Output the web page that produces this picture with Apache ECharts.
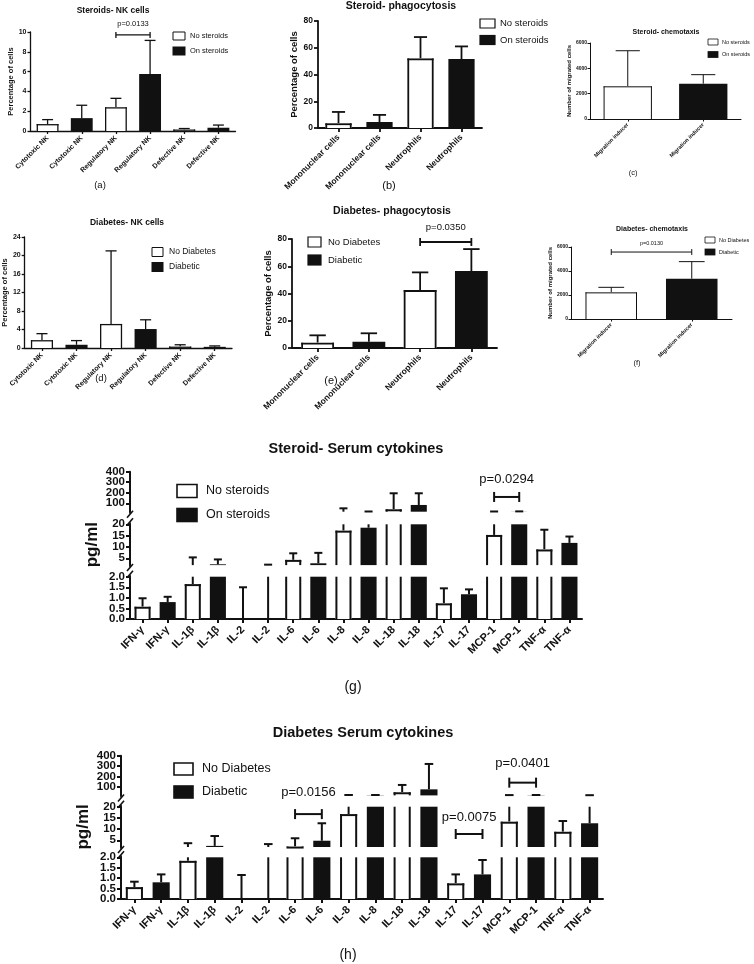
<!DOCTYPE html>
<html><head><meta charset="utf-8">
<script src="https://cdn.jsdelivr.net/npm/echarts@6/dist/echarts.min.js"></script>
<style>html,body{margin:0;padding:0;background:#fff}#chart{width:754px;height:964px}</style>
</head><body><div id="chart"></div>
<script>
const FONT = '"Liberation Sans", Arial, Helvetica, sans-serif';
const INK = '#111';

// ---------- data ----------
const steroidGroups = ['No steroids', 'On steroids'];
const diabetesGroups = ['No Diabetes', 'Diabetic'];

// (a) Steroids- NK cells
const aCategories = ['Cytotoxic NK','Cytotoxic NK','Regulatory NK','Regulatory NK','Defective NK','Defective NK'];
const aMeans = [0.7, 1.3, 2.4, 5.75, 0.15, 0.33];
const aSDs   = [0.45, 1.3, 0.9, 3.4, 0.1, 0.27];
const aTicks = [0, 2, 4, 6, 8, 10];
const aBracket = {from: 2, to: 3, y: 9.7, label: 'p=0.0133'};

// (b) Steroid- phagocytosis
const bCategories = ['Mononuclear cells','Mononuclear cells','Neutrophils','Neutrophils'];
const bMeans = [3.5, 4.5, 52, 51.5];
const bSDs   = [8.5, 5.3, 16, 9.5];
const bTicks = [0, 20, 40, 60, 80];

// (c) Steroid- chemotaxis
const cCategories = ['Migration inducer','Migration inducer'];
const cMeans = [2580, 2790];
const cSDs   = [2810, 710];
const cTicks = [0, 2000, 4000, 6000];

// (d) Diabetes- NK cells
const dCategories = ['Cytotoxic NK','Cytotoxic NK','Regulatory NK','Regulatory NK','Defective NK','Defective NK'];
const dMeans = [1.7, 0.7, 5.2, 4.1, 0.3, 0.25];
const dSDs   = [1.4, 0.9, 15.8, 2.0, 0.4, 0.2];
const dTicks = [0, 4, 8, 12, 16, 20, 24];

// (e) Diabetes- phagocytosis
const eCategories = ['Mononuclear cells','Mononuclear cells','Neutrophils','Neutrophils'];
const eMeans = [3.9, 4.6, 42.5, 56.5];
const eSDs   = [5.4, 6.2, 13, 16.1];
const eTicks = [0, 20, 40, 60, 80];
const eBracket = {from: 2, to: 3, y: 77.8, label: 'p=0.0350'};

// (f) Diabetes- chemotaxis
const fCategories = ['Migration inducer','Migration inducer'];
const fMeans = [2220, 3360];
const fSDs   = [420, 1420];
const fTicks = [0, 2000, 4000, 6000];
const fBracket = {from: 0, to: 1, y: 5580, label: 'p=0.0130'};

// (g) Steroid- Serum cytokines
const cytoCategories = ['IFN-γ','IFN-γ','IL-1β','IL-1β','IL-2','IL-2','IL-6','IL-6','IL-8','IL-8','IL-18','IL-18','IL-17','IL-17','MCP-1','MCP-1','TNF-α','TNF-α'];
const gMeans = [0.58, 0.8, 1.65, 2.35, 0, 0, 4.3, 2.8, 17.2, 18.5, 43, 84, 0.74, 1.17, 15.3, 21, 8.9, 11.8];
const gSDs   = [0.4, 0.25, 3.75, 2.15, 1.5, 2.2, 2.9, 4.6, 34.8, 3.5, 152, 111, 0.71, 0.23, 6.7, 2, 8.7, 2.8];
const gBracket = {from: 14, to: 15, y: 160, label: 'p=0.0294'};

// (h) Diabetes Serum cytokines
const hMeans = [0.57, 0.8, 1.83, 2.5, 0, 0, 2.2, 4.8, 16.7, 22, 50, 78, 0.75, 1.18, 13.3, 22, 8.8, 12.6];
const hSDs   = [0.26, 0.38, 1.87, 4.4, 1.15, 3.3, 3.7, 7.8, 7.3, 2, 70, 243, 0.43, 0.69, 9.7, 2, 4.8, 9.4];
const hBrackets = [
  {from: 6, to: 7, y: 16.7, label: 'p=0.0156', seg: 1, gap: 22},
  {from: 12, to: 13, y: 7.8, label: 'p=0.0075', seg: 1, gap: 17},
  {from: 14, to: 15, y: 142, label: 'p=0.0401', seg: 2, gap: 19}
];

// broken-axis segments (bottom, middle, top) and their tick labels
const cytoSegments = [[0, 2], [2, 20], [20, 400]];
const cytoTicks = [[0, 0.5, 1, 1.5, 2], [5, 10, 15, 20], [100, 200, 300, 400]];

// ---------- builders ----------
const grids = [], xAxes = [], yAxes = [], series = [], graphics = [];

function barRenderer(segMin, segMax, ratio, lw) {
  return function (params, api) {
    const i = api.value(0), m = api.value(1), sd = api.value(2);
    const up = m + sd;
    const filled = (i % 2) === 1;
    const cw = api.size([1, 0])[0];
    const bw = cw * ratio;
    const base = api.coord([i, segMin]);
    const x = base[0], y0 = base[1];
    const xl = x - bw / 2, xr = x + bw / 2;
    const ls = {stroke: INK, lineWidth: lw};
    const ch = [];
    if (sd > 0 && up > segMin && m < segMax) {
      const yS = api.coord([i, Math.max(m, segMin)])[1];
      const yE = api.coord([i, Math.min(up, segMax)])[1];
      ch.push({type: 'line', shape: {x1: x, y1: yS, x2: x, y2: yE}, style: ls});
      if (up <= segMax) ch.push({type: 'line', shape: {x1: x - bw / 4, y1: yE, x2: x + bw / 4, y2: yE}, style: ls});
    }
    if (m > segMin) {
      const yT = api.coord([i, Math.min(m, segMax)])[1];
      if (filled) {
        ch.push({type: 'rect', shape: {x: xl, y: yT, width: bw, height: y0 - yT}, style: {fill: INK}});
      } else {
        ch.push({type: 'rect', shape: {x: xl, y: yT, width: bw, height: y0 - yT}, style: {fill: '#fff'}});
        ch.push({type: 'line', shape: {x1: xl + lw / 2, y1: y0, x2: xl + lw / 2, y2: yT}, style: ls});
        ch.push({type: 'line', shape: {x1: xr - lw / 2, y1: y0, x2: xr - lw / 2, y2: yT}, style: ls});
        if (m <= segMax) ch.push({type: 'line', shape: {x1: xl, y1: yT + lw / 2, x2: xr, y2: yT + lw / 2}, style: ls});
      }
    }
    return {type: 'group', children: ch};
  };
}

function addPanel(p) {
  const gi = grids.length;
  grids.push({left: p.left, top: p.top, width: p.width, height: p.height});
  xAxes.push({
    type: 'category', gridIndex: gi, data: p.cats, show: p.showX !== false,
    axisLine: {show: true, lineStyle: {color: INK, width: p.lw}},
    axisTick: {show: true, alignWithLabel: true, length: p.tick, lineStyle: {color: INK, width: p.lw}},
    axisLabel: {show: true, interval: 0, rotate: 45, hideOverlap: false, fontFamily: FONT, fontWeight: 'bold',
      fontSize: p.xfs, color: INK, margin: p.xMargin}
  });
  yAxes.push({
    type: 'value', gridIndex: gi, min: p.min, max: p.max,
    splitLine: {show: false},
    axisLine: {show: true, lineStyle: {color: INK, width: p.lw}},
    axisTick: {show: true, length: p.tick, lineStyle: {color: INK, width: p.lw}, customValues: p.ticks},
    axisLabel: {show: !p.ownLabels, customValues: p.ticks, showMinLabel: true, showMaxLabel: true, hideOverlap: false,
      fontFamily: FONT, fontWeight: 'bold', fontSize: p.yfs,
      color: INK, margin: p.yMargin, formatter: p.fmt || (v => String(v))},
    name: p.yName || '', nameLocation: 'middle', nameGap: p.nameGap || 10, nameRotate: 90,
    nameTextStyle: {fontFamily: FONT, fontWeight: 'bold', fontSize: p.nfs || 8, color: INK}
  });
  series.push({
    type: 'custom', name: p.sname, xAxisIndex: gi, yAxisIndex: gi, clip: false, z: 3,
    data: p.cats.map((c, i) => [i, p.means[i], p.sds[i]]),
    renderItem: barRenderer(p.min, p.max, p.ratio || 0.64, p.lw)
  });
  if (p.ownLabels) {
    // tick labels placed through the segment's own y scale (dense labels that the axis would auto-thin)
    const fmt = p.fmt || (v => String(v));
    series.push({
      type: 'custom', xAxisIndex: gi, yAxisIndex: gi, clip: false, z: 5, silent: true,
      data: p.ticks.map(v => [0, v]),
      renderItem: function (params, api) {
        const c = api.coord([0, api.value(1)]);
        const half = api.size([1, 0])[0] / 2;
        return {type: 'text', style: {text: fmt(api.value(1)), x: c[0] - half - p.yMargin, y: c[1],
          textAlign: 'right', textVerticalAlign: 'middle', font: 'bold ' + p.yfs + 'px ' + FONT, fill: INK}};
      }
    });
  }
  return gi;
}

function addBracket(gi, b, fs, half, gap, lw) {
  series.push({
    type: 'custom', xAxisIndex: gi, yAxisIndex: gi, clip: false, z: 4,
    data: [[b.from, b.to, b.y]], encode: {x: [0, 1], y: 2},
    renderItem: function (params, api) {
      const p1 = api.coord([api.value(0), api.value(2)]);
      const p2 = api.coord([api.value(1), api.value(2)]);
      const ls = {stroke: INK, lineWidth: lw};
      return {type: 'group', children: [
        {type: 'line', shape: {x1: p1[0], y1: p1[1], x2: p2[0], y2: p2[1]}, style: ls},
        {type: 'line', shape: {x1: p1[0], y1: p1[1] - half, x2: p1[0], y2: p1[1] + half}, style: ls},
        {type: 'line', shape: {x1: p2[0], y1: p2[1] - half, x2: p2[0], y2: p2[1] + half}, style: ls},
        {type: 'text', style: {text: b.label, x: (p1[0] + p2[0]) / 2, y: p1[1] - gap,
          textAlign: 'center', textVerticalAlign: 'middle', font: fs + 'px ' + FONT, fill: INK}}
      ]};
    }
  });
}

function addText(text, x, y, fs, bold, align) {
  graphics.push({type: 'text', x: x, y: y, z: 10, style: {text: text, fill: INK,
    font: (bold ? 'bold ' : '') + fs + 'px ' + FONT, textAlign: align || 'center', textVerticalAlign: 'middle'}});
}

function addLegend(names, x, yc1, yc2, w, h, tx, fs, lw) {
  graphics.push({type: 'rect', z: 10, shape: {x: x, y: yc1 - h / 2, width: w, height: h}, style: {fill: '#fff', stroke: INK, lineWidth: lw}});
  graphics.push({type: 'rect', z: 10, shape: {x: x - lw / 2, y: yc2 - h / 2 - lw / 2, width: w + lw, height: h + lw}, style: {fill: INK}});
  addText(names[0], tx, yc1, fs, false, 'left');
  addText(names[1], tx, yc2, fs, false, 'left');
}

function addBreak(ax, yTopSegBottom, yMidSegTop, lw) {
  const s = {stroke: INK, lineWidth: lw};
  graphics.push({type: 'line', z: 10, shape: {x1: ax, y1: yTopSegBottom, x2: ax, y2: yTopSegBottom + 2}, style: s});
  graphics.push({type: 'line', z: 10, shape: {x1: ax - 3, y1: yTopSegBottom + 6, x2: ax + 3, y2: yTopSegBottom - 1}, style: s});
  graphics.push({type: 'line', z: 10, shape: {x1: ax, y1: yMidSegTop, x2: ax, y2: yMidSegTop - 2}, style: s});
  graphics.push({type: 'line', z: 10, shape: {x1: ax - 3, y1: yMidSegTop + 1, x2: ax + 3, y2: yMidSegTop - 6}, style: s});
}

// ---------- panels a-f ----------
const gA = addPanel({left: 30.5, top: 32, width: 205, height: 99, cats: aCategories, means: aMeans, sds: aSDs,
  min: 0, max: 10, ticks: aTicks, lw: 1.3, tick: 3, xfs: 7, yfs: 7, nfs: 7.5, xMargin: 6, yMargin: 4,
  yName: 'Percentage of cells', nameGap: 11, sname: 'a'});
addBracket(gA, aBracket, 7.5, 3, 11, 1.3);
addText('Steroids- NK cells', 113, 11, 8.5, true);
addLegend(steroidGroups, 173, 36, 51, 12, 8, 190, 7.5, 1);
addText('(a)', 100, 185, 9.5, false);

const gB = addPanel({left: 318, top: 21, width: 164, height: 107, cats: bCategories, means: bMeans, sds: bSDs,
  min: 0, max: 80, ticks: bTicks, lw: 1.8, tick: 4, xfs: 8.5, yfs: 8.5, nfs: 9.5, xMargin: 8, yMargin: 5,
  yName: 'Percentage of cells', nameGap: 14, sname: 'b'});
addText('Steroid- phagocytosis', 401, 6, 10.5, true);
addLegend(steroidGroups, 480, 23.5, 40, 15, 9, 500, 9.5, 1.2);
addText('(b)', 389, 186, 11, false);

const gC = addPanel({left: 590, top: 43, width: 151, height: 76, cats: cCategories, means: cMeans, sds: cSDs,
  min: 0, max: 6000, ticks: cTicks, lw: 1, tick: 2.5, xfs: 5.5, yfs: 5, nfs: 6, xMargin: 5, yMargin: 3,
  yName: 'Number of migrated cells', nameGap: 15, sname: 'c'});
addText('Steroid- chemotaxis', 666, 32, 7, true);
addLegend(steroidGroups, 708, 42, 54.5, 10, 6, 722, 5.5, 0.8);
addText('(c)', 633, 173, 7.5, false);

const gD = addPanel({left: 23, top: 237, width: 209, height: 111, cats: dCategories, means: dMeans, sds: dSDs,
  min: 0, max: 24, ticks: dTicks, lw: 1.3, tick: 3, xfs: 7, yfs: 7, nfs: 7.5, xMargin: 6, yMargin: 4,
  yName: 'Percentage of cells', nameGap: 12, sname: 'd'});
addText('Diabetes- NK cells', 127, 223, 8.5, true);
addLegend(diabetesGroups, 152, 252, 267, 11, 9, 169, 8.5, 1);
addText('(d)', 101, 378, 9.5, false);

const gE = addPanel({left: 292, top: 239, width: 205, height: 109, cats: eCategories, means: eMeans, sds: eSDs,
  min: 0, max: 80, ticks: eTicks, lw: 1.8, tick: 4, xfs: 8.5, yfs: 8.5, nfs: 9.5, xMargin: 8, yMargin: 5,
  yName: 'Percentage of cells', nameGap: 15, sname: 'e'});
addBracket(gE, eBracket, 9.5, 4, 15, 1.8);
addText('Diabetes- phagocytosis', 392, 211, 10.5, true);
addLegend(diabetesGroups, 308, 242, 260, 13, 10, 328, 9.5, 1.2);
addText('(e)', 331, 381, 11, false);

const gF = addPanel({left: 571, top: 247, width: 161, height: 72, cats: fCategories, means: fMeans, sds: fSDs,
  min: 0, max: 6000, ticks: fTicks, lw: 1, tick: 2.5, xfs: 5.5, yfs: 5, nfs: 6, xMargin: 5, yMargin: 3,
  yName: 'Number of migrated cells', nameGap: 15, sname: 'f'});
addBracket(gF, fBracket, 5.5, 3, 9, 1);
addText('Diabetes- chemotaxis', 652, 229, 7, true);
addLegend(diabetesGroups, 705, 240, 252, 10, 6, 719, 5.5, 0.8);
addText('(f)', 637, 363, 7.5, false);

// ---------- broken-axis panels g, h ----------
function addCytoPanel(left, width, boxes, means, sds, tag) {
  const ids = [];
  for (let s = 0; s < 3; s++) {
    const b = boxes[s];
    ids.push(addPanel({left: left, top: b[0], width: width, height: b[1], cats: cytoCategories, means: means, sds: sds,
      min: cytoSegments[s][0], max: cytoSegments[s][1], ticks: cytoTicks[s], lw: 2, tick: 4,
      xfs: 11, yfs: 11.5, nfs: 17, xMargin: 9, yMargin: 5, showX: s === 0, ownLabels: true,
      fmt: s === 0 ? (v => v.toFixed(1)) : (v => String(v)),
      yName: s === 1 ? 'pg/ml' : '', nameGap: 29, sname: tag + s}));
  }
  return ids;
}

const gG = addCytoPanel(130, 452, [[576.7, 42.3], [524.3, 40.8], [471.7, 40]], gMeans, gSDs, 'g');
addBreak(130, 511.7, 524.3, 1.6);
addBreak(130, 565.1, 576.7, 1.6);
addBracket(gG[2], gBracket, 13, 5, 18, 2);
addText('Steroid- Serum cytokines', 356, 449, 14.5, true);
addLegend(steroidGroups, 177, 491, 515, 20, 13, 206, 12.5, 1.6);
addText('(g)', 353, 687, 14, false);

const gH = addCytoPanel(121, 482, [[857.3, 41.7], [806.7, 40.3], [755.7, 39.7]], hMeans, hSDs, 'h');
addBreak(121, 795.4, 806.7, 1.6);
addBreak(121, 847, 857.3, 1.6);
hBrackets.forEach(b => addBracket(gH[b.seg], b, 13, 5, b.gap, 2));
addText('Diabetes Serum cytokines', 363, 733, 14.5, true);
addLegend(diabetesGroups, 174, 769, 792, 19, 12, 202, 12.5, 1.6);
addText('(h)', 348, 955, 14, false);

const chart = echarts.init(document.getElementById('chart'), null, {renderer: 'canvas', width: 754, height: 964});
chart.setOption({
  backgroundColor: '#fff',
  animation: false,
  textStyle: {fontFamily: FONT},
  grid: grids,
  xAxis: xAxes,
  yAxis: yAxes,
  series: series,
  graphic: graphics
});
</script>
</body></html>
